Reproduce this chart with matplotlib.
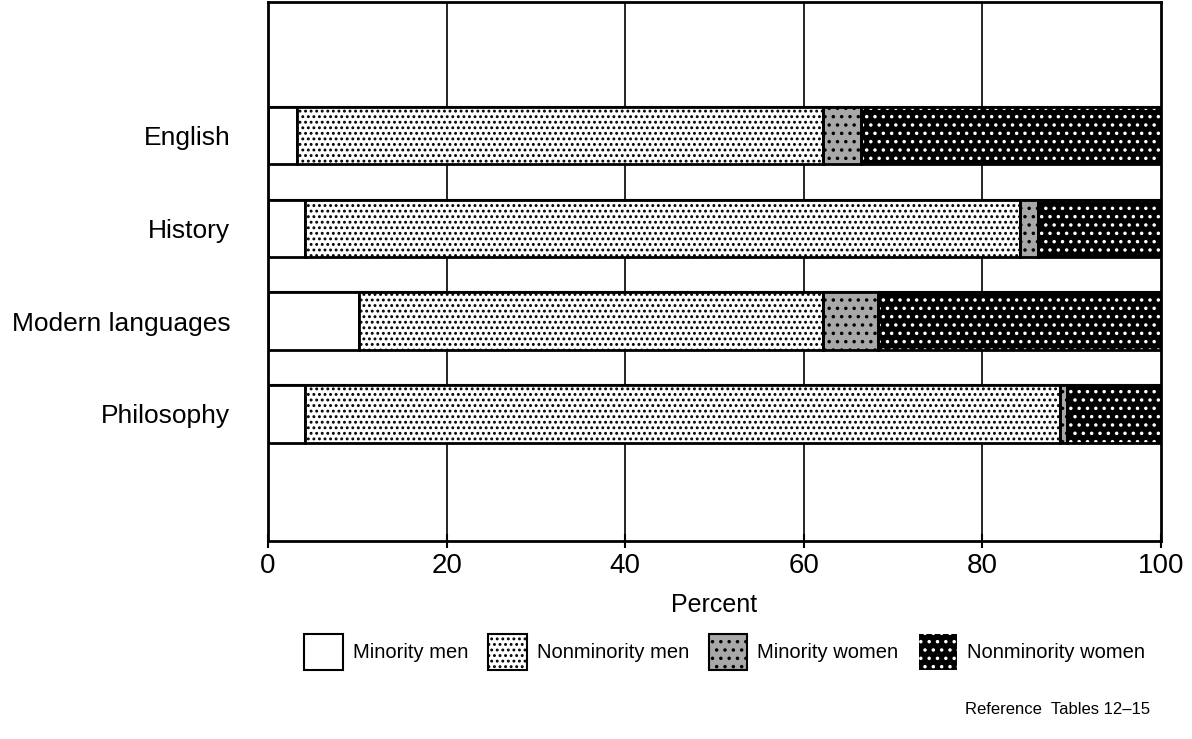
import matplotlib.pyplot as plt
from matplotlib.patches import Patch

plt.rcParams['font.family'] = ['Liberation Sans', 'DejaVu Sans']
plt.rcParams['hatch.linewidth'] = 1.3

# Values (percent of each field)
fields = ['English', 'History', 'Modern languages', 'Philosophy']
minority_men = [3.2, 4.1, 10.2, 4.1]
nonminority_men = [59.0, 80.1, 52.0, 84.6]
minority_women = [4.2, 2.0, 6.1, 0.8]
nonminority_women = [33.6, 13.8, 31.7, 10.5]

groups = ['Minority men', 'Nonminority men', 'Minority women', 'Nonminority women']

fig = plt.figure(figsize=(11.92, 7.39), dpi=100)
ax = fig.add_axes([0.2248, 0.268, 0.7492, 0.729])

ypos = list(range(len(fields)))
h = 0.62

# vertical grid behind bars
for x in [20, 40, 60, 80]:
    ax.axvline(x, color='black', lw=1.2, zorder=0)

left = [0.0] * len(fields)

# Minority men: plain white
ax.barh(ypos, minority_men, left=left, height=h, color='white', edgecolor='black', lw=2, zorder=2)
left = [a + b for a, b in zip(left, minority_men)]

# Nonminority men: black dots on white
ax.barh(ypos, nonminority_men, left=left, height=h, color='white', edgecolor='black', hatch='...', lw=0, zorder=2)
ax.barh(ypos, nonminority_men, left=left, height=h, fill=False, edgecolor='black', lw=2, zorder=3)
left = [a + b for a, b in zip(left, nonminority_men)]

# Minority women: heavier dots
ax.barh(ypos, minority_women, left=left, height=h, color='#a8a8a8', edgecolor='black', hatch='..', lw=0, zorder=2)
ax.barh(ypos, minority_women, left=left, height=h, fill=False, edgecolor='black', lw=2, zorder=3)
left = [a + b for a, b in zip(left, minority_women)]

# Nonminority women: white dots on black
ax.barh(ypos, nonminority_women, left=left, height=h, color='black', edgecolor='white', hatch='..', lw=0, zorder=2)
ax.barh(ypos, nonminority_women, left=left, height=h, fill=False, edgecolor='black', lw=2, zorder=3)

# borders of the white bands between bars
for y in ypos:
    ax.axhline(y - h / 2, color='black', lw=1.5, zorder=1)
    ax.axhline(y + h / 2, color='black', lw=1.5, zorder=1)

ax.set_xlim(0, 100)
ax.set_ylim(3 + 1.37, -1.44)
ax.set_yticks(ypos)
ax.set_yticklabels(fields, fontsize=19)
ax.tick_params(axis='y', length=0, pad=27)
ax.set_xticks([0, 20, 40, 60, 80, 100])
ax.tick_params(axis='x', labelsize=20, length=10, width=1.5, direction='inout', pad=4)
ax.set_xlabel('Percent', fontsize=18, labelpad=10)
for s in ax.spines.values():
    s.set_linewidth(2)

handles = [
    Patch(facecolor='white', edgecolor='black', lw=1.5),
    Patch(facecolor='white', edgecolor='black', hatch='...', lw=1.5),
    Patch(facecolor='#a8a8a8', edgecolor='black', hatch='..', lw=1.5),
    Patch(facecolor='black', edgecolor='white', hatch='..', lw=0),
]
fig.legend(handles, groups, loc='center', bbox_to_anchor=(0.608, 0.118), ncol=4, frameon=False,
           fontsize=14.5, handlelength=1.9, handleheight=2.4, handletextpad=0.5, columnspacing=1.0)

fig.text(0.965, 0.04, 'Reference  Tables 12\u201315', ha='right', va='center', fontsize=12)

fig.savefig('out.png', dpi=100)
